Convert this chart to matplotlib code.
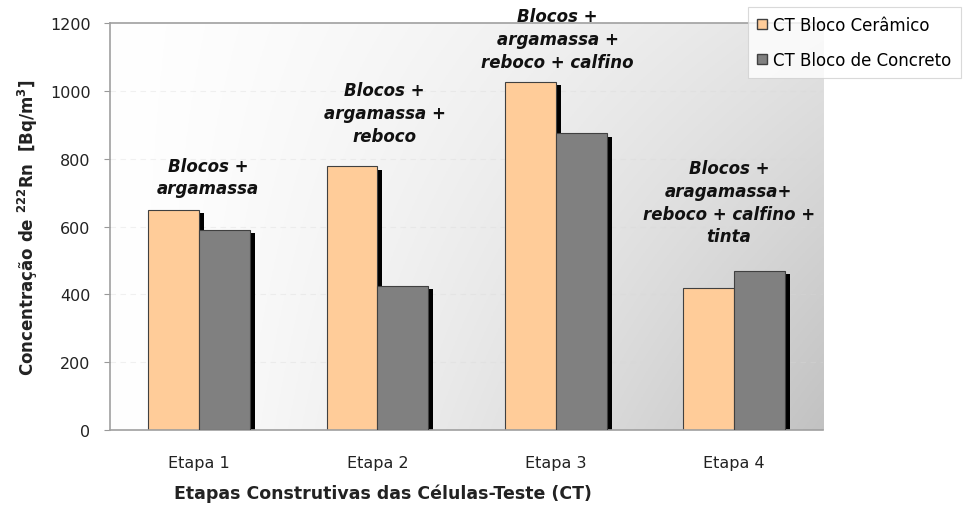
import numpy as np
import matplotlib
matplotlib.use('Agg')
import matplotlib.pyplot as plt
from matplotlib.patches import Patch

plt.rcParams['font.family'] = ['DejaVu Sans']
plt.rcParams['mathtext.default'] = 'regular'

# dados
etapas = ['Etapa 1', 'Etapa 2', 'Etapa 3', 'Etapa 4']
ceramico = [650, 778, 1027, 420]
concreto = [591, 425, 875, 469]
notas = ['Blocos +\nargamassa',
         'Blocos +\nargamassa +\nreboco',
         'Blocos +\nargamassa +\nreboco + calfino',
         'Blocos +\naragamassa+\nreboco + calfino +\ntinta']
nota_x = [0.05, 1.04, 2.01, 2.97]
nota_y = [746, 935, 1153, 672]

fig = plt.figure(figsize=(9.68, 5.06), dpi=100)
ax = fig.add_axes([0.1136, 0.148, 0.737, 0.8046])

x = np.arange(len(etapas))
w = 0.285

# fundo em degrade (branco -> cinza)
u, v = np.meshgrid(np.linspace(0, 1, 300), np.linspace(0, 1, 200))
val = 1 - 0.24 * u**1.3 * (0.45 + 0.55 * v)
ax.imshow(np.dstack([val, val, val]), extent=[-0.5, 3.5, 0, 1200],
          aspect='auto', zorder=0, origin='upper')

for yv in range(200, 1200, 200):
    ax.axhline(yv, color='#d8d8d8', alpha=0.35, lw=0.8, ls=(0, (5, 4)), zorder=0.5)

# sombras
ax.bar(x - w + 0.028, np.array(ceramico) - 10, w, align='edge',
       color='black', zorder=1)
ax.bar(x + 0.028, np.array(concreto) - 10, w, align='edge',
       color='black', zorder=1)

ax.bar(x - w, ceramico, w, align='edge', color='#ffcc99',
       edgecolor='#404040', lw=0.8, zorder=2)
ax.bar(x, concreto, w, align='edge', color='#808080',
       edgecolor='#404040', lw=0.8, zorder=3)

for i, txt in enumerate(notas):
    ax.text(nota_x[i], nota_y[i], txt, ha='center', va='center',
            fontsize=12, fontweight='bold', style='italic', color='#111111',
            linespacing=1.35, clip_on=False, zorder=5)

ax.set_xlim(-0.5, 3.5)
ax.set_ylim(0, 1200)
ax.set_yticks(range(0, 1201, 200))
ax.set_xticks(x)
ax.set_xticklabels(etapas)
ax.tick_params(axis='x', length=0, pad=18, labelsize=11.5, labelcolor='#222222')
ax.tick_params(axis='y', length=4, direction='out', color='#999999',
               labelsize=11.5, labelcolor='#222222', pad=10)

ax.spines['right'].set_visible(False)
for s in ['left', 'top', 'bottom']:
    ax.spines[s].set_color('#a0a0a0')
    ax.spines[s].set_linewidth(1.2)

fig.text(383 / 968, 1 - 494 / 506, 'Etapas Construtivas das Células-Teste (CT)',
         ha='center', va='center', fontsize=12.5, fontweight='bold', color='#222222')
fig.text(28 / 968, 1 - 228 / 506, r'Concentração de $^{222}$Rn  [Bq/m$^3$]',
         ha='center', va='center', rotation=90, fontsize=12,
         fontweight='bold', color='#222222')

handles = [Patch(facecolor='#ffcc99', edgecolor='#404040', label='CT Bloco Cerâmico'),
           Patch(facecolor='#808080', edgecolor='#404040', label='CT Bloco de Concreto')]
leg = fig.legend(handles=handles, loc='upper left', bbox_to_anchor=(0.773, 0.985),
                 frameon=True, fancybox=False, fontsize=12, handlelength=0.55,
                 handleheight=0.55, handletextpad=0.4, labelspacing=1.05,
                 borderpad=0.55, borderaxespad=0, edgecolor='#d0d0d0')
leg.get_frame().set_linewidth(0.8)

fig.savefig('out.png', dpi=100)
